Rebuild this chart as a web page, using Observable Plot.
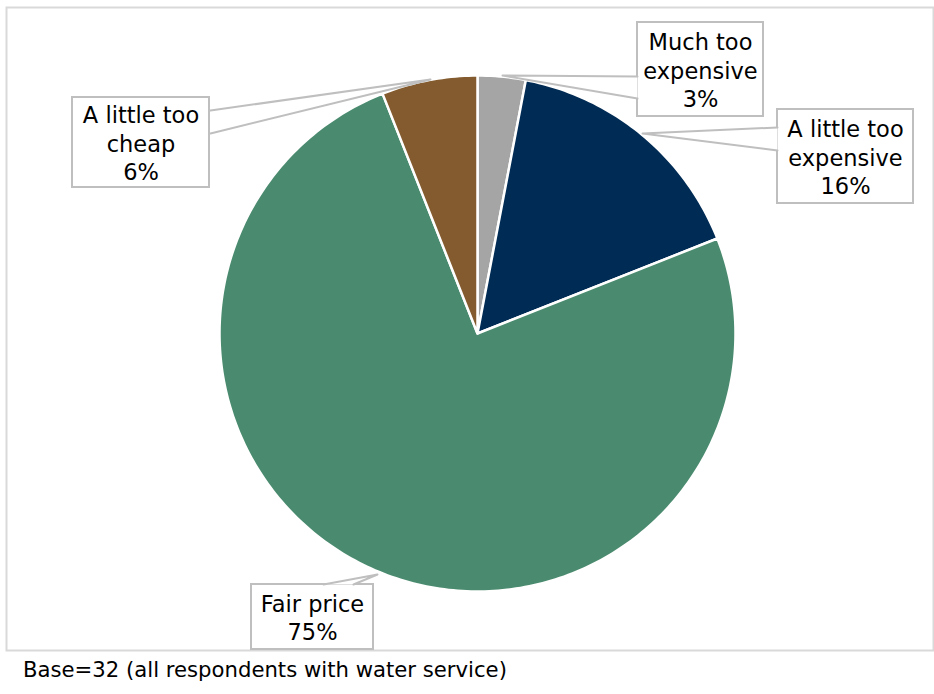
<!DOCTYPE html>
<html>
<head>
<meta charset="utf-8">
<script src="https://cdn.jsdelivr.net/npm/d3@7"></script>
<script src="https://cdn.jsdelivr.net/npm/@observablehq/plot@0.6"></script>
<style>
  html, body { margin: 0; padding: 0; background: #fff; }
  #chart svg { display: block; }
  #footer { font-family: "DejaVu Sans", sans-serif; font-size: 21.2px; color: #000; margin: 5px 0 0 23px; }
</style>
</head>
<body>
<div id="chart"></div>
<div id="footer"></div>
<script>
// ---- data ----
const categories = ["Much too expensive", "A little too expensive", "Fair price", "A little too cheap"];
const labelLines = [["Much too", "expensive"], ["A little too", "expensive"], ["Fair price"], ["A little too", "cheap"]];
const percents = [3, 16, 75, 6];
const colors = ["#A5A5A5", "#002B54", "#4A8B6F", "#845B2E"];
const caption = "Base=32 (all respondents with water service)";

// ---- layout (pixels of the reference, converted to pie units) ----
const W = 934, H = 652, CX = 477, CY = 333, R = 258;
const u = px => (px - CX) / R;
const v = py => (CY - py) / R;
// callout boxes [x1, y1, x2, y2] and pointer triangles [anchor, edgeA, edgeB]
const boxes = [
  [637, 22, 763, 116],
  [777, 109, 913, 203],
  [251, 584, 373, 649],
  [72, 97, 209, 187]
];
const pointers = [
  [[502, 75], [637, 76], [637, 98]],
  [[642, 133], [777, 127], [777, 150]],
  [[377, 574], [323, 584], [353, 584]],
  [[430, 79], [210, 110], [210, 133]]
];

// ---- slices from data ----
const pie = d3.pie().sort(null).value(d => d)(percents);
const slicePts = [];
pie.forEach((p, i) => {
  const name = categories[i];
  slicePts.push({name, x: 0, y: 0});
  const n = Math.max(2, Math.ceil((p.endAngle - p.startAngle) / (Math.PI / 180)));
  for (let k = 0; k <= n; k++) {
    const a = p.startAngle + (p.endAngle - p.startAngle) * k / n;
    slicePts.push({name, x: Math.sin(a), y: Math.cos(a)});
  }
  slicePts.push({name, x: 0, y: 0});
});

const boxData = categories.map((c, i) => ({
  name: c,
  x1: u(boxes[i][0]), x2: u(boxes[i][2]), y1: v(boxes[i][1]), y2: v(boxes[i][3]),
  cx: u((boxes[i][0] + boxes[i][2]) / 2), cy: v((boxes[i][1] + boxes[i][3]) / 2),
  text: [...labelLines[i], percents[i] + "%"].join("\n")
}));
const pointerPts = [];
categories.forEach((c, i) => {
  const t = pointers[i];
  [t[1], t[0], t[2]].forEach(p => pointerPts.push({name: c, x: u(p[0]), y: v(p[1])}));
});

const chart = Plot.plot({
  width: W, height: H,
  marginLeft: 6, marginRight: 1, marginTop: 7, marginBottom: 2,
  x: {domain: [u(6), u(933)], axis: null},
  y: {domain: [v(650), v(7)], axis: null},
  color: {domain: categories, range: colors},
  style: {fontFamily: "DejaVu Sans, sans-serif"},
  marks: [
    Plot.frame({stroke: "#D9D9D9", strokeWidth: 2}),
    Plot.line(slicePts, {x: "x", y: "y", z: "name", fill: "name", stroke: "white", strokeWidth: 2.5, strokeLinejoin: "round"}),
    Plot.rect(boxData, {x1: "x1", x2: "x2", y1: "y1", y2: "y2", fill: "white", stroke: "#BFBFBF", strokeWidth: 2}),
    Plot.line(pointerPts, {x: "x", y: "y", z: "name", fill: "white", stroke: "#BFBFBF", strokeWidth: 2}),
    Plot.text(boxData, {x: "cx", y: "cy", text: "text", fontSize: 22.5, lineHeight: 1.26, fill: "#000", textAnchor: "middle"})
  ]
});
document.getElementById("chart").appendChild(chart);
document.getElementById("footer").textContent = caption;
</script>
</body>
</html>
